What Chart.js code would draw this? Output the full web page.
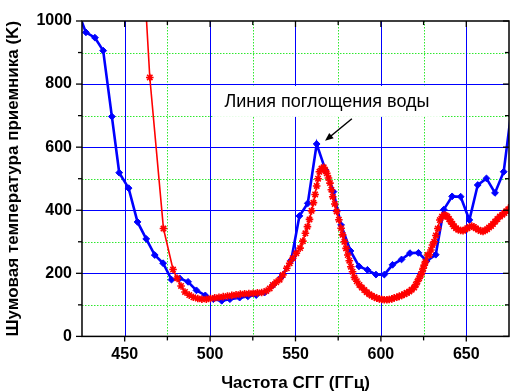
<!DOCTYPE html>
<html><head><meta charset="utf-8">
<script src="https://cdn.jsdelivr.net/npm/chart.js@4"></script>
<style>html,body{margin:0;padding:0;background:#fff;}#wrap{width:510px;height:392px;}</style>
</head><body><div id="wrap"><canvas id="c" width="510" height="392"></canvas></div>
<script>
// ---- data ----
const xLabels = [450, 500, 550, 600, 650];
const yLabels = [0, 200, 400, 600, 800, 1000];
const xMajor = [450, 500, 550, 600, 650];
const xMinor = [475, 525, 575, 625];
const yMajor = [200, 400, 600, 800];
const yMinor = [100, 300, 500, 700, 900];

const blueX = [424,427.3,432.6,437.4,442.5,446.8,452.3,457.5,462.6,467.6,472.5,477.4,482.2,487.1,492,497.2,501.9,506.8,511.6,517.3,522.1,527,531.9,536.7,541.6,547.5,552.3,557.2,562.4,567.5,572.2,576.7,582.2,587.2,592.1,597.1,602,606.8,612.1,617,622,626.8,632.1,636.8,641.7,646.7,651.8,656.7,661.8,666.8,671.9,677];
const blueY = [1010,964,947,906,697,519,470,363,309,258,232,180,184,173,146,130,118,113,118,123,127,131,139,162,187,242,382,422,610,528,459,353,271,222,211,196,196,227,244,264,265,239,259,402,444,443,369,480,501,455,522,740];

const redX = [460.5,464.7,472.7,478.3,480.7,483,485.3,487.8,490.2,492.8,495.2,497.8,500.2,502.7,505.2,507.7,510.2,512.7,515.2,517.7,520.2,522.7,525.2,527.7,530.2,532.9,534.9,536.7,538.7,540.7,542.6,544.9,546.6,548.4,550.5,552.7,554.3,555.8,557,558.2,559.4,560.5,561.5,562.4,563.2,564,565.2,566.5,567.4,568.3,569.3,570.2,571,571.8,573,574.1,575.4,576.7,577.6,578.6,579.6,580.6,581.5,582.4,583.4,584.5,585.9,587.4,588.8,590.3,591.7,593.2,594.6,596.1,597.6,599.1,600.5,602,603.5,604.9,606.4,607.8,609.3,610.7,612.2,613.7,615.2,616.6,618,619.5,620.5,621.4,622.4,623.4,624.1,624.8,625.4,626.1,627.3,628.3,629.3,630.2,631.2,632.2,633.3,634.5,635.8,637,638,638.9,639.9,640.9,641.9,642.8,644,645.3,646.7,648.1,649.4,650.6,651.9,653.2,654.4,655.5,657,658.5,659.8,661,662.2,663.3,664.5,665.6,666.9,668.2,669.7,671.1,672.3,673.4,674.6,676];
const redY = [1216,821,342,212,184,160,141,131,124,120,118,118,120,122,124,126,128,130,132,134,135,136,137,138,139,144,152,163,172,180,195,216,232,248,264,280,302,327,348,371,398,424,450,477,500,522,532,536,527,517,502,486,465,443,420,396,370,343,322,300,279,258,240,221,205,187,175,163,155,147,140,134,129,125,121,119,117,116,116,117,119,122,124,127,130,134,138,142,148,155,164,174,184,195,205,216,226,237,258,258,274,290,300,320,342,369,380,385,383,380,372,364,356,349,343,338,336,335,339,343,347,350,347,343,338,334,333,336,340,345,350,356,364,372,380,386,391,397,403,410,420];

// annotation (data coordinates)
const noteText = 'Линия поглощения воды';
const noteBox = {x0: 501.5, x1: 635.5, y0: 696, y1: 794};
const noteCenter = {x: 568.4, y: 742};
const arrowFrom = {x: 583, y: 690};
const arrowTo = {x: 567.3, y: 620};

const FONT = "'Liberation Sans', Arial, sans-serif";

const pts = (xs, ys) => xs.map((x, i) => ({x: x, y: ys[i]}));

const decor = {
  id: 'decor',
  beforeDatasetsDraw(chart) {
    const {ctx, chartArea: a, scales: {x, y}} = chart;
    ctx.save();
    ctx.lineWidth = 1;
    ctx.strokeStyle = '#2ee82e';
    ctx.setLineDash([1.5, 1.5]);
    xMinor.forEach(v => { const p = Math.round(x.getPixelForValue(v)) + 0.5; ctx.beginPath(); ctx.moveTo(p, a.top); ctx.lineTo(p, a.bottom); ctx.stroke(); });
    yMinor.forEach(v => { const p = Math.round(y.getPixelForValue(v)) + 0.5; ctx.beginPath(); ctx.moveTo(a.left, p); ctx.lineTo(a.right, p); ctx.stroke(); });
    ctx.setLineDash([]);
    ctx.strokeStyle = '#0000ff';
    xMajor.forEach(v => { const p = Math.round(x.getPixelForValue(v)) + 0.5; ctx.beginPath(); ctx.moveTo(p, a.top); ctx.lineTo(p, a.bottom); ctx.stroke(); });
    yMajor.forEach(v => { const p = Math.round(y.getPixelForValue(v)) + 0.5; ctx.beginPath(); ctx.moveTo(a.left, p); ctx.lineTo(a.right, p); ctx.stroke(); });
    const bx0 = x.getPixelForValue(noteBox.x0), bx1 = x.getPixelForValue(noteBox.x1);
    const by0 = y.getPixelForValue(noteBox.y1), by1 = y.getPixelForValue(noteBox.y0);
    ctx.fillStyle = '#fff';
    ctx.fillRect(bx0, by0, bx1 - bx0, by1 - by0);
    ctx.fillStyle = '#000';
    ctx.font = '18px ' + FONT;
    ctx.textAlign = 'center';
    ctx.textBaseline = 'middle';
    ctx.fillText(noteText, x.getPixelForValue(noteCenter.x), y.getPixelForValue(noteCenter.y));
    ctx.restore();
  },
  afterDatasetsDraw(chart) {
    const {ctx, chartArea: a, scales: {x, y}} = chart;
    ctx.save();
    const x1 = x.getPixelForValue(arrowFrom.x), y1 = y.getPixelForValue(arrowFrom.y);
    const x2 = x.getPixelForValue(arrowTo.x), y2 = y.getPixelForValue(arrowTo.y);
    const ang = Math.atan2(y2 - y1, x2 - x1);
    ctx.strokeStyle = '#000'; ctx.fillStyle = '#000'; ctx.lineWidth = 1.5;
    ctx.beginPath(); ctx.moveTo(x1, y1); ctx.lineTo(x2 - 6 * Math.cos(ang), y2 - 6 * Math.sin(ang)); ctx.stroke();
    ctx.beginPath();
    ctx.moveTo(x2, y2);
    ctx.lineTo(x2 - 9 * Math.cos(ang - 0.4), y2 - 9 * Math.sin(ang - 0.4));
    ctx.lineTo(x2 - 9 * Math.cos(ang + 0.4), y2 - 9 * Math.sin(ang + 0.4));
    ctx.closePath(); ctx.fill();
    ctx.lineWidth = 1.5;
    ctx.strokeStyle = '#000';
    ctx.strokeRect(a.left, a.top, a.right - a.left, a.bottom - a.top);
    ctx.lineWidth = 1.3;
    const tick = (x0, y0, x1_, y1_) => { ctx.beginPath(); ctx.moveTo(x0, y0); ctx.lineTo(x1_, y1_); ctx.stroke(); };
    xMajor.forEach(v => { const p = x.getPixelForValue(v); tick(p, a.bottom, p, a.bottom + 5); tick(p, a.top, p, a.top + 6); });
    xMinor.forEach(v => { const p = x.getPixelForValue(v); tick(p, a.bottom, p, a.bottom + 4); tick(p, a.top, p, a.top + 4); });
    yLabels.forEach(v => { const p = y.getPixelForValue(v); tick(a.left - 6, p, a.left, p); tick(a.right - 6, p, a.right, p); });
    yMinor.forEach(v => { const p = y.getPixelForValue(v); tick(a.left - 4, p, a.left, p); tick(a.right - 4, p, a.right, p); });
    ctx.restore();
  }
};

new Chart(document.getElementById('c'), {
  type: 'line',
  data: {
    datasets: [
      {
        label: 'red',
        data: pts(redX, redY),
        borderColor: '#ff0000',
        backgroundColor: '#ff0000',
        borderWidth: 1.6,
        pointStyle: 'star',
        pointRadius: 3.8,
        pointBorderWidth: 1.6,
        tension: 0
      },
      {
        label: 'blue',
        data: pts(blueX, blueY),
        borderColor: '#0000ff',
        backgroundColor: '#0000ff',
        borderWidth: 2.6,
        pointStyle: 'rectRot',
        pointRadius: 3.4,
        pointBorderWidth: 1,
        tension: 0
      }
    ]
  },
  options: {
    responsive: false,
    animation: false,
    devicePixelRatio: 1,
    layout: {autoPadding: false, padding: {left: 3, top: 21, right: 1, bottom: 1}},
    plugins: {legend: {display: false}, tooltip: {enabled: false}},
    scales: {
      x: {
        type: 'linear', min: 425, max: 675,
        afterBuildTicks: ax => { ax.ticks = xLabels.map(v => ({value: v})); },
        ticks: {font: {family: FONT, size: 16, weight: 'bold'}, color: '#000', padding: 9, maxRotation: 0, autoSkip: false, callback: v => String(v)},
        grid: {display: false, drawTicks: false},
        border: {display: false},
        title: {display: true, text: 'Частота СГГ (ГГц)', font: {family: FONT, size: 17, weight: 'bold'}, color: '#000', padding: {top: 0, bottom: -3}}
      },
      y: {
        type: 'linear', min: 0, max: 1000,
        afterBuildTicks: ax => { ax.ticks = yLabels.map(v => ({value: v})); },
        ticks: {font: {family: FONT, size: 16, weight: 'bold'}, color: '#000', padding: 10, autoSkip: false, callback: v => String(v)},
        grid: {display: false, drawTicks: false},
        border: {display: false},
        title: {display: true, text: 'Шумовая температура приемника (K)', font: {family: FONT, size: 17, weight: 'bold'}, color: '#000', padding: {top: 0, bottom: 3}}
      }
    }
  },
  plugins: [decor]
});
</script>
</body></html>
